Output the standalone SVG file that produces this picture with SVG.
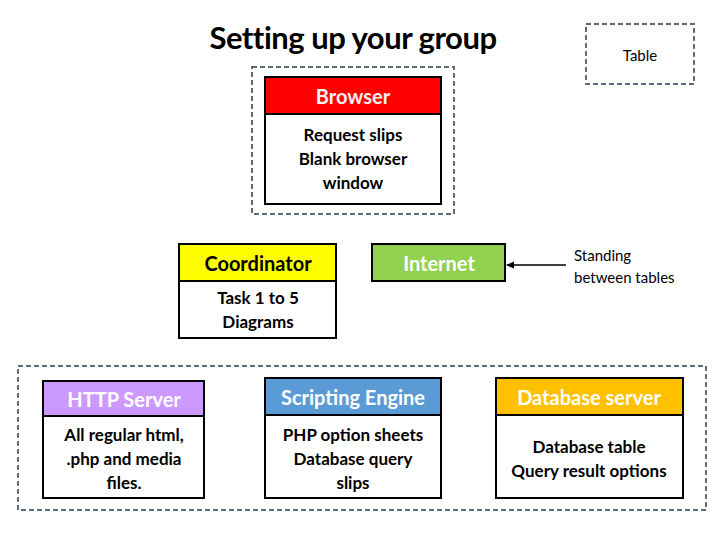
<svg xmlns="http://www.w3.org/2000/svg" width="720" height="540" viewBox="0 0 720 540">
<style>
text{font-family:Lato,"Open Sans","Liberation Sans",sans-serif;text-anchor:middle;dominant-baseline:central}
.dash{fill:none;stroke:#5b6b7a;stroke-width:2;stroke-dasharray:5,3}
.box{fill:#fff;stroke:#000;stroke-width:2}
.hd{stroke:#000;stroke-width:2}
.ht{font-size:20px;fill:#fff;font-weight:bold}
.bt{font-size:17px;fill:#000;font-weight:bold}
</style>
<defs>
<marker id="ah" markerWidth="8" markerHeight="8" refX="7" refY="4" orient="auto" markerUnits="userSpaceOnUse">
<path d="M0,0.5 L8,4 L0,7.5 Z" fill="#000"/>
</marker>
</defs>
<text x="353" y="37" style="font-size:31px;letter-spacing:-0.5px;font-weight:bold" fill="#000">Setting up your group</text>
<g id="table">
<rect class="dash" x="586" y="24" width="108" height="60"/>
<text x="640" y="55" style="font-size:15px">Table</text>
</g>
<g id="browser-group">
<rect class="dash" x="252" y="67" width="202" height="147"/>
</g>
<g id="browser">
<rect class="box" x="265" y="114" width="176" height="90"/>
<rect class="hd" x="265" y="77" width="176" height="37" fill="#ff0000"/>
<text class="ht" x="353" y="96" style="fill:#f2f2f2">Browser</text>
<text class="bt" x="353" y="134">Request slips</text>
<text class="bt" x="353" y="158">Blank browser</text>
<text class="bt" x="353" y="182">window</text>
</g>
<g id="coordinator">
<rect class="box" x="179" y="281" width="157" height="57"/>
<rect class="hd" x="179" y="244" width="157" height="37" fill="#ffff00"/>
<text class="ht" x="258" y="263" style="fill:#000">Coordinator</text>
<text class="bt" x="258" y="297">Task 1 to 5</text>
<text class="bt" x="258" y="321">Diagrams</text>
</g>
<g id="internet">
<rect class="hd" x="372" y="244" width="133" height="37" fill="#92d050"/>
<text class="ht" x="439" y="263">Internet</text>
</g>
<g id="standing">
<text x="574" y="255" style="font-size:15px;text-anchor:start">Standing</text>
<text x="574" y="277" style="font-size:15px;text-anchor:start">between tables</text>
</g>
<g id="servers-group">
<rect class="dash" x="18" y="366" width="688" height="144"/>
</g>
<g id="http">
<rect class="box" x="43" y="416" width="161" height="82"/>
<rect class="hd" x="43" y="381" width="161" height="35" fill="#cc99ff"/>
<text class="ht" x="124" y="399">HTTP Server</text>
<text class="bt" x="124" y="434">All regular html,</text>
<text class="bt" x="124" y="458">.php and media</text>
<text class="bt" x="124" y="482">files.</text>
</g>
<g id="scripting">
<rect class="box" x="265" y="415" width="176" height="83"/>
<rect class="hd" x="265" y="378" width="176" height="37" fill="#5b9bd5" stroke="#41719c"/>
<text class="ht" x="353" y="397">Scripting Engine</text>
<text class="bt" x="353" y="434">PHP option sheets</text>
<text class="bt" x="353" y="458">Database query</text>
<text class="bt" x="353" y="482">slips</text>
</g>
<g id="database">
<rect class="box" x="496" y="415" width="187" height="83"/>
<rect class="hd" x="496" y="378" width="187" height="37" fill="#ffc000" stroke="#7f7f5f"/>
<text class="ht" x="589" y="397">Database server</text>
<text class="bt" x="589" y="446">Database table</text>
<text class="bt" x="589" y="470">Query result options</text>
</g>
<g id="connectors">
<line x1="566" y1="265" x2="507" y2="265" stroke="#000" stroke-width="1.5" marker-end="url(#ah)"/>
</g>
</svg>
